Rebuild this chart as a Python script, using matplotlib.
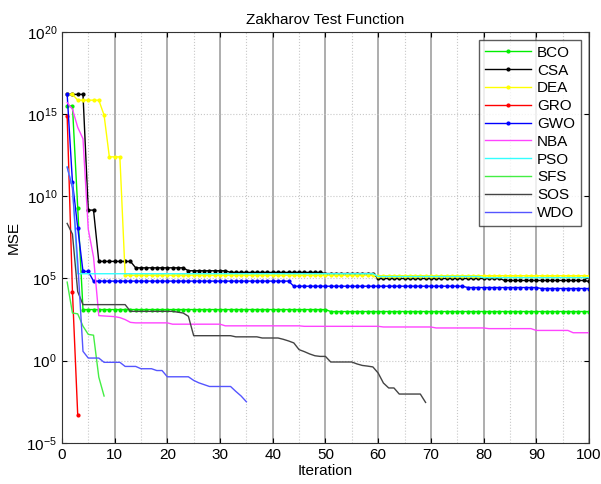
import numpy as np
import matplotlib
matplotlib.use('Agg')
import matplotlib.pyplot as plt
from matplotlib.ticker import LogFormatterSciNotation, FixedLocator, MultipleLocator

plt.rcParams['font.family'] = ['Liberation Sans', 'DejaVu Sans']

# best MSE per iteration, stored as log10 values
bco = [15.5, 15.5, 9.3] + [3.11] * 47 + [2.99] * 50
csa = ([16.2] * 4 + [9.16] * 2 + [6.04] * 7 + [5.65] * 10 + [5.47] * 8
       + [5.37] * 18 + [5.3] * 10 + [5.0] * 24 + [4.88] * 16 + [4.82])
dea = [16.2, 16.2] + [15.85] * 5 + [14.94] + [12.4] * 3 + [5.2] * 48 + [5.17] * 41
gro = [14.87, 4.2, -3.3]
gwo = [16.2, 10.87, 8.1, 5.43, 5.43] + [4.84] * 38 + [4.53] * 33 + [4.45] * 14 + [4.39] * 10
nba = ([15.7, 15.3, 14.2, 13.5, 8.0, 6.3, 2.74, 2.72, 2.7, 2.68, 2.62, 2.5, 2.33]
       + [2.3] * 7 + [2.22] * 10 + [2.12] * 15 + [2.09] * 15 + [2.05] * 10
       + [1.99] * 10 + [1.95] * 9 + [1.84] * 7 + [1.7] * 4)
pso = [11.8, 10.6] + [5.29] * 57 + [5.12] * 20 + [5.05] * 21
sfs = [4.78, 2.9, 2.85, 2.1, 1.6, 1.55, -1.0, -2.15]
sos = ([8.35, 7.7, 4.2] + [3.41] * 9 + [3.0] * 9 + [2.95, 2.9, 2.7] + [1.52] * 8
       + [1.45] * 5 + [1.38] * 4 + [1.3, 1.2, 1.08, 0.67, 0.55, 0.41, 0.3, 0.26, 0.26]
       + [-0.08] * 5 + [-0.2, -0.29, -0.33, -0.38, -0.75, -1.36, -1.66, -1.66]
       + [-2.03] * 5 + [-2.54])
wdo = ([11.77, 10.5, 6.0, 0.57] + [0.16] * 3 + [-0.1] * 4 + [-0.35] * 3 + [-0.49] * 3
       + [-0.6] * 2 + [-0.98] * 5 + [-1.2, -1.35, -1.46] + [-1.57] * 5 + [-1.87, -2.15, -2.5])

series = [
    ('BCO', bco, '#00ee00', '.'),
    ('CSA', csa, '#000000', '.'),
    ('DEA', dea, '#ffff00', '.'),
    ('GRO', gro, '#ff0000', '.'),
    ('GWO', gwo, '#0000ff', '.'),
    ('NBA', nba, '#ff44ff', None),
    ('PSO', pso, '#33ffff', None),
    ('SFS', sfs, '#44ee44', None),
    ('SOS', sos, '#444444', None),
    ('WDO', wdo, '#5555ff', None),
]

fig = plt.figure(figsize=(6.01, 4.84), dpi=100)
ax = fig.add_axes([0.103, 0.085, 0.877, 0.849])

for name, vals, col, mk in series:
    it = np.arange(1, len(vals) + 1)
    ax.semilogy(it, 10.0 ** np.array(vals), color=col, marker=mk,
                markersize=4, linewidth=1.0, label=name)

ax.set_xlim(0, 100)
ax.set_ylim(1e-5, 1e20)
ax.yaxis.set_major_locator(FixedLocator([1e-5, 1e0, 1e5, 1e10, 1e15, 1e20]))
ax.yaxis.set_major_formatter(LogFormatterSciNotation())
ax.yaxis.set_minor_locator(FixedLocator([]))
ax.xaxis.set_major_locator(MultipleLocator(10))
ax.xaxis.set_minor_locator(MultipleLocator(5))

# grid: solid vertical lines every 10, dotted elsewhere
ax.grid(True, axis='x', which='major', color='#a0a0a0', linestyle='-', linewidth=1.2)
ax.grid(True, axis='x', which='minor', color='#c8c8c8', linestyle=':', linewidth=0.8)
ax.grid(True, axis='y', which='major', color='#c8c8c8', linestyle=':', linewidth=0.8)
ax.set_axisbelow(True)

ax.tick_params(which='both', direction='in', top=True, right=True, labelsize=11)
ax.tick_params(which='minor', length=0)
for sp in ax.spines.values():
    sp.set_color('#333333')

ax.set_title('Zakharov Test Function', fontsize=11)
ax.set_xlabel('Iteration', fontsize=11, labelpad=2)
ax.set_ylabel('MSE', fontsize=11)

leg = ax.legend(loc='upper right', fontsize=11, frameon=True, fancybox=False,
                handlelength=3.0, labelspacing=0.25, borderpad=0.4, handletextpad=0.4)
leg.get_frame().set_edgecolor('#333333')
leg.get_frame().set_linewidth(1.0)

plt.savefig('out.png', dpi=100)
plt.close()
